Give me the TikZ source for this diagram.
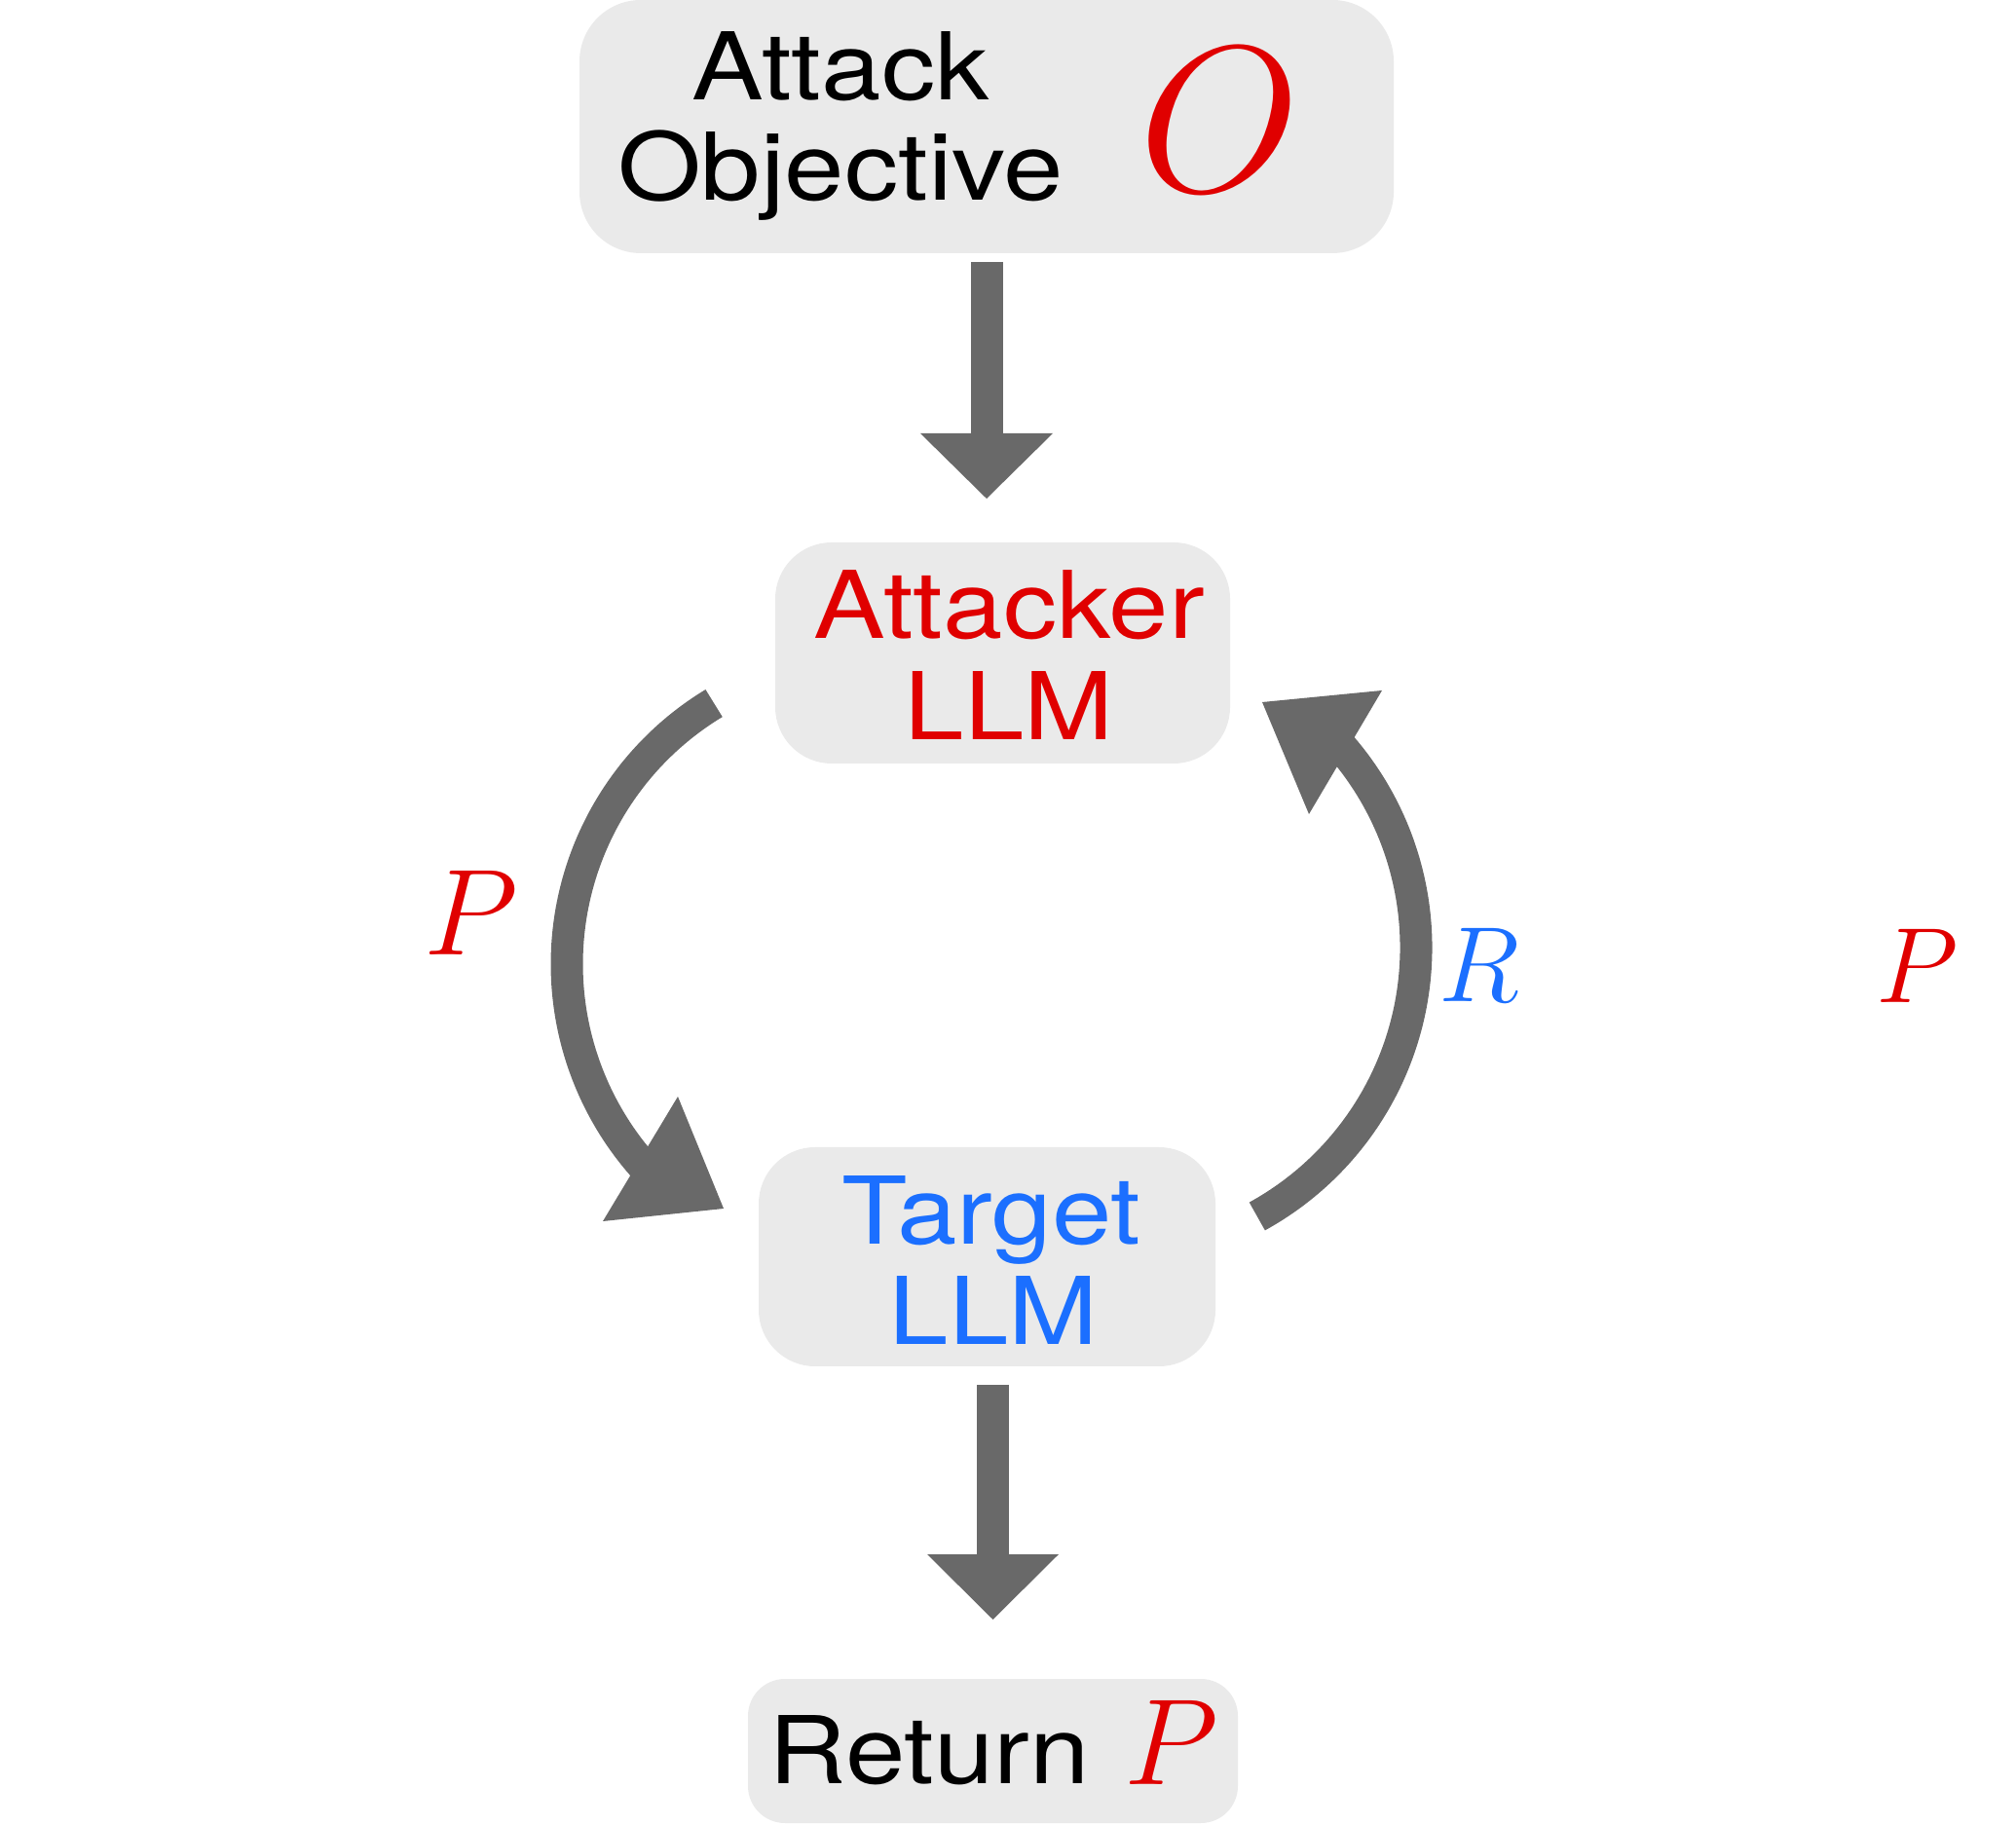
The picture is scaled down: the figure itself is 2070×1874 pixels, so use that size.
\documentclass[tikz,border=0pt]{standalone}
\usepackage{fix-cm}
\usepackage[no-math]{fontspec}
\setmainfont{TeX Gyre Heros}[FakeStretch=1.15]
\definecolor{attred}{RGB}{224,0,0}
\definecolor{tgtblue}{RGB}{27,111,255}
\definecolor{arrgray}{RGB}{105,105,105}
\definecolor{boxgray}{RGB}{234,234,234}
\begin{document}
\begin{tikzpicture}[x=0.5pt,y=0.5pt,
  box/.style={fill=boxgray, draw=none, inner sep=0pt, outer sep=0pt},
  txt/.style={inner sep=0pt, anchor=base, font=\fontsize{48}{52}\selectfont},
  mlab/.style={inner sep=0pt, anchor=base},
  band/.style={draw=arrgray, line width=16.5pt},
  head/.style={fill=arrgray, draw=none},
]
\useasboundingbox (0,0) rectangle (2070,1874);

% boxes
\node[box, minimum width=418pt, minimum height=130pt, rounded corners=31.5pt] (obj) at (1013,1744) {};
\node[box, minimum width=233.5pt, minimum height=113.5pt, rounded corners=29pt] (att) at (1029.5,1203.5) {};
\node[box, minimum width=234.5pt, minimum height=112.5pt, rounded corners=29pt] (tgt) at (1013.5,583.5) {};
\node[box, minimum width=251.5pt, minimum height=74pt, rounded corners=19pt] (ret) at (1019.5,76) {};

% texts
\node[txt] (objA) at (863,1771) {Attack};
\node[txt] (objB) at (863,1668) {Objective};
\node[mlab, text=attred, font=\fontsize{107}{107}\selectfont] (objO) at (1252,1677) {$O$};

\node[txt, text=attred] (attA) at (1036,1218) {Attacker};
\node[txt, text=attred] (attB) at (1036,1114) {LLM};

\node[txt, text=tgtblue] (tgtA) at (1018,596) {Target};
\node[txt, text=tgtblue] (tgtB) at (1020,494) {LLM};

\node[txt, anchor=base west] (retA) at (789,43) {Return};
\node[mlab, text=attred, font=\fontsize{63}{63}\selectfont] (retP) at (1203,42) {$P$};

\node[mlab, text=attred, font=\fontsize{63}{63}\selectfont] (lP) at (484,893) {$P$};
\node[mlab, text=tgtblue, font=\fontsize{55}{55}\selectfont] (lR) at (1519,845) {$R$};
\node[mlab, text=attred, font=\fontsize{55}{55}\selectfont] (rP) at (1969,844) {$P$};

% top straight arrow
\coordinate (a1s) at (obj.south |- 0,1605);
\coordinate (a1h) at (obj.south |- 0,1429);
\coordinate (a1t) at (obj.south |- 0,1362);
\draw[band] (a1s) -- ([yshift=-2pt]a1h);
\fill[head] ([xshift=-34pt]a1h) -- ([xshift=34pt]a1h) -- (a1t) -- cycle;

% bottom straight arrow
\coordinate (a2s) at (ret.north |- 0,452);
\coordinate (a2h) at (ret.north |- 0,278);
\coordinate (a2t) at (ret.north |- 0,211);
\draw[band] (a2s) -- ([yshift=-2pt]a2h);
\fill[head] ([xshift=-33.75pt]a2h) -- ([xshift=33.75pt]a2h) -- (a2t) -- cycle;

% left curved arrow (attacker -> target)
\coordinate (pl) at (733.1,1151.9);
\draw[band] (pl) arc[start angle=121.15, end angle=222, radius=313];
\fill[head] (619,620) -- (743,633) -- (696,748) -- cycle;

% right curved arrow (target -> attacker)
\coordinate (pr) at (1290.8,625);
\draw[band] (pr) arc[start angle=-61.2, end angle=41.6, radius=315];
\fill[head] (1419,1165) -- (1296,1153) -- (1344,1038) -- cycle;
\end{tikzpicture}
\end{document}
